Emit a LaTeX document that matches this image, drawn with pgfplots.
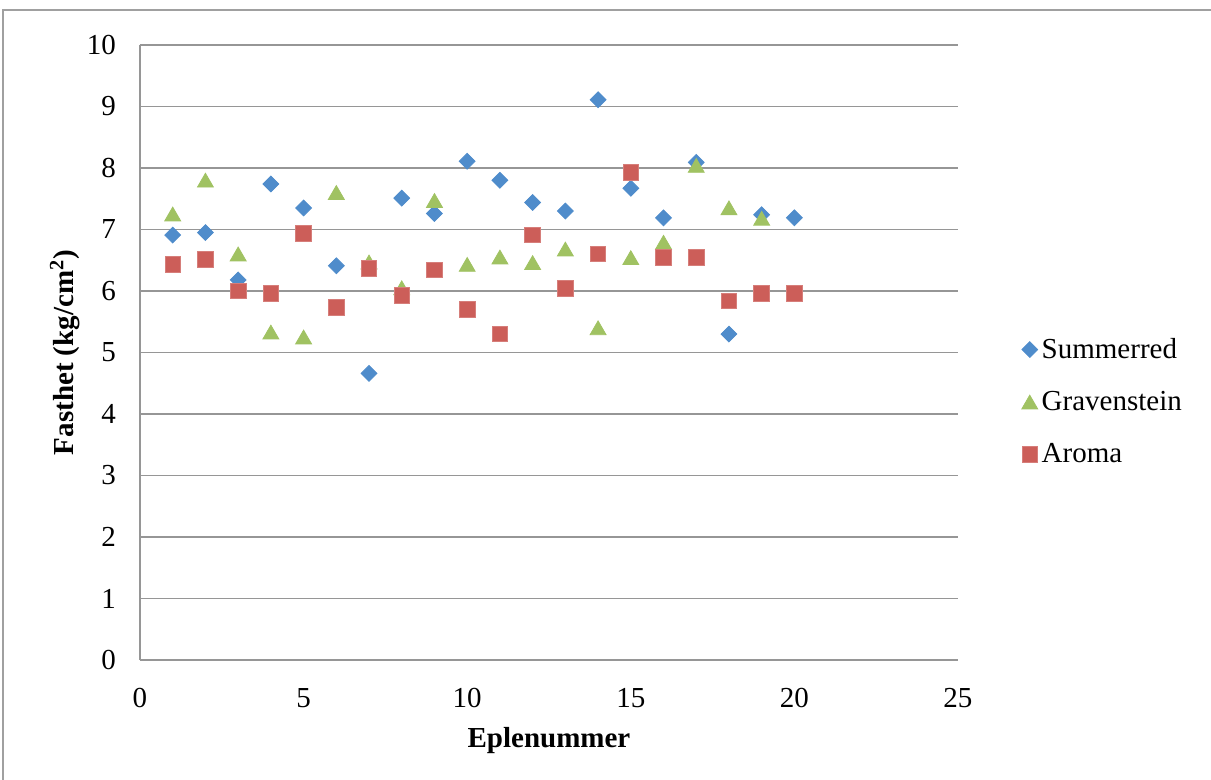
\documentclass[border=0pt]{standalone}
\usepackage{pgfplots}
\pgfplotsset{compat=1.18}
\usepackage{fontspec}
\setmainfont{Liberation Serif}

\definecolor{sumblue}{RGB}{79,140,203}
\definecolor{gravgreen}{RGB}{160,194,98}
\definecolor{aromared}{RGB}{204,94,89}
\definecolor{gridgray}{RGB}{150,150,150}
\definecolor{framegray}{RGB}{160,160,160}

\begin{document}
\begin{tikzpicture}[x=1pt,y=1pt]
\useasboundingbox (0,0) rectangle (605.5,390);
% outer chart frame
\draw[framegray, line width=0.6pt] (1.5,-10) -- (1.5,385) -- (620,385);
\begin{axis}[
  at={(70pt,60pt)}, anchor=south west,
  scale only axis, width=409pt, height=307.5pt,
  xmin=0, xmax=25, ymin=0, ymax=10,
  xtick={0,5,...,25}, ytick={0,1,...,10},
  axis x line*=bottom, axis y line*=left,
  axis line style={gridgray, line width=0.75pt, -},
  major tick length=0pt,
  ymajorgrids, grid style={gridgray, line width=0.75pt},
  /pgf/number format/assume math mode=true,
  tick label style={font=\fontsize{14.5}{16}\selectfont},
  xticklabel style={yshift=-10.5pt},
  yticklabel style={xshift=-8.5pt},
  xlabel={\textbf{Eplenummer}},
  ylabel={\textbf{Fasthet (kg/cm\textsuperscript{2})}},
  label style={font=\fontsize{14.5}{16}\selectfont},
  xlabel style={at={(axis description cs:0.5,-0.131)}, anchor=center},
  ylabel style={at={(axis description cs:-0.0917,0.5)}, anchor=center},
  legend style={draw=none, fill=none, at={(axis description cs:1.0775,0.42)}, anchor=west,
    font=\fontsize{14.5}{16}\selectfont, row sep=11pt, inner sep=0pt},
  legend cell align=left,
  legend image code/.code={\draw[#1] plot coordinates {(4pt,0pt)};},
]
\addplot[only marks, mark=square*, mark size=2.8pt,
  mark options={rotate=45, draw=sumblue, fill=sumblue}]
coordinates {
(1,6.91) (2,6.95) (3,6.18) (4,7.74) (5,7.35) (6,6.41) (7,4.66) (8,7.51) (9,7.26) (10,8.11)
(11,7.80) (12,7.44) (13,7.30) (14,9.11) (15,7.67) (16,7.19) (17,8.09) (18,5.30) (19,7.24) (20,7.19)
};
\addlegendentry{Summerred}
\addplot[only marks, mark=triangle*, mark size=4.6pt,
  mark options={draw=gravgreen, fill=gravgreen, yshift=-1.1pt}]
coordinates {
(1,7.25) (2,7.80) (3,6.60) (4,5.33) (5,5.25) (6,7.60) (7,6.47) (8,6.05) (9,7.47) (10,6.43)
(11,6.55) (12,6.46) (13,6.68) (14,5.40) (15,6.54) (16,6.79) (17,8.04) (18,7.35) (19,7.18)
};
\addlegendentry{Gravenstein}
\addplot[only marks, mark=square*, mark size=3.9pt,
  mark options={draw=aromared!80!white, fill=aromared}]
coordinates {
(1,6.43) (2,6.51) (3,6.00) (4,5.96) (5,6.94) (6,5.73) (7,6.37) (8,5.93) (9,6.34) (10,5.70)
(11,5.30) (12,6.91) (13,6.04) (14,6.60) (15,7.93) (16,6.55) (17,6.55) (18,5.84) (19,5.96) (20,5.96)
};
\addlegendentry{Aroma}
\end{axis}
\end{tikzpicture}
\end{document}
